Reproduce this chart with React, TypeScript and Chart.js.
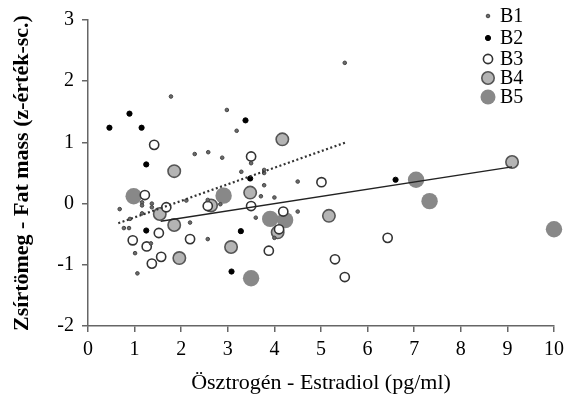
import React, { useEffect, useRef } from "react";
import { Chart, registerables } from "chart.js";

Chart.register(...registerables);

// ---- data (x = Estradiol pg/ml, y = Fat mass z-score) ----
const b1Points: [number, number][] = [
  [1.78, 1.75], [2.29, 0.81], [2.98, 1.53], [3.19, 1.19], [2.58, 0.84], [2.88, 0.75],
  [3.5, 0.66], [3.29, 0.52], [3.78, 0.5], [3.78, 0.55], [4.5, 0.36], [3.78, 0.3],
  [3.71, 0.12], [4.0, 0.1], [2.57, 0.06], [2.84, -0.01], [4.5, -0.13], [3.6, -0.23],
  [4.0, -0.56], [2.57, -0.58], [0.68, -0.09], [1.16, 0.02], [1.16, -0.03], [1.37, 0.0],
  [1.37, -0.06], [1.16, -0.16], [0.9, -0.25], [0.77, -0.4], [0.88, -0.4], [2.19, -0.31],
  [1.35, -0.65], [1.01, -0.81], [1.06, -1.14], [2.11, 0.05], [5.51, 2.3],
];
const b2Points: [number, number][] = [
  [0.89, 1.47], [0.46, 1.24], [1.15, 1.24], [1.25, 0.64], [3.38, 1.36], [3.48, 0.41],
  [3.28, -0.45], [3.08, -1.11], [1.25, -0.44], [6.6, 0.39],
];
const b3Points: [number, number][] = [
  [1.42, 0.96], [3.5, 0.77], [2.57, -0.04], [3.5, -0.04], [4.19, -0.13], [3.88, -0.77],
  [1.22, 0.14], [1.68, -0.06], [1.52, -0.48], [0.96, -0.6], [1.26, -0.7], [2.19, -0.58],
  [1.57, -0.87], [1.37, -0.98], [5.01, 0.35], [6.43, -0.56], [5.3, -0.91], [5.51, -1.2],
  [4.1, -0.42],
];
const b4Points: [number, number][] = [
  [1.85, 0.53], [4.17, 1.05], [3.48, 0.18], [2.64, -0.03], [1.54, -0.17], [1.85, -0.35],
  [4.07, -0.47], [3.07, -0.71], [1.96, -0.89], [5.17, -0.2], [9.1, 0.68],
];
const b5Points: [number, number][] = [
  [0.98, 0.12], [2.91, 0.13], [3.91, -0.25], [4.23, -0.27], [3.5, -1.22], [7.04, 0.39],
  [7.33, 0.04], [10.0, -0.42],
];
const dottedTrend: [number, number][] = [[0.65, -0.32], [5.53, 1.0]];
const solidTrend: [number, number][] = [[1.56, -0.29], [9.1, 0.6]];

const seriesNames = ["B1", "B2", "B3", "B4", "B5"];
const xTitle = "Ösztrogén - Estradiol (pg/ml)";
const yTitle = "Zsírtömeg - Fat mass (z-érték-sc.)";

const FONT = "'Liberation Serif', 'Times New Roman', serif";

const toXY = (pts: [number, number][]) => pts.map(([x, y]) => ({ x, y }));

const seriesStyles = [
  { r: 1.8, bg: "#6a6a6a", bc: "#444444", bw: 1 },
  { r: 2.6, bg: "#000000", bc: "#000000", bw: 1 },
  { r: 4.6, bg: "#ffffff", bc: "#333333", bw: 1.6 },
  { r: 6.2, bg: "#b4b4b4", bc: "#555555", bw: 1.6 },
  { r: 8.2, bg: "#888888", bc: "#888888", bw: 0 },
];

const legendPlugin = {
  id: "customLegend",
  afterDraw(chart: any) {
    const ctx = chart.ctx;
    ctx.save();
    const rows = [16, 38, 59, 78, 97];
    seriesNames.forEach((name, i) => {
      const s = seriesStyles[i];
      ctx.beginPath();
      ctx.arc(488, rows[i], Math.min(s.r, 7.5), 0, Math.PI * 2);
      ctx.fillStyle = s.bg;
      ctx.fill();
      if (s.bw > 0) {
        ctx.lineWidth = s.bw;
        ctx.strokeStyle = s.bc;
        ctx.stroke();
      }
      ctx.fillStyle = "#000";
      ctx.font = `20px ${FONT}`;
      ctx.textBaseline = "middle";
      ctx.textAlign = "left";
      ctx.fillText(name, 500, rows[i] + 1);
    });
    ctx.restore();
  },
};

export default function App() {
  const ref = useRef<HTMLCanvasElement | null>(null);
  useEffect(() => {
    if (!ref.current) return;
    const allSeries = [b1Points, b2Points, b3Points, b4Points, b5Points];
    const scatterSets = allSeries.map((pts, i) => ({
      type: "scatter" as const,
      label: seriesNames[i],
      data: toXY(pts),
      pointRadius: seriesStyles[i].r,
      pointBackgroundColor: seriesStyles[i].bg,
      pointBorderColor: seriesStyles[i].bc,
      pointBorderWidth: seriesStyles[i].bw,
      pointHoverRadius: seriesStyles[i].r,
      showLine: false,
      order: i + 1,
      clip: false as any,
    }));
    const chart = new Chart(ref.current, {
      type: "scatter",
      data: {
        datasets: [
          {
            type: "line" as const,
            label: "trend1",
            data: toXY(dottedTrend),
            borderColor: "#333333",
            borderWidth: 2.2,
            borderDash: [2, 2.5],
            pointRadius: 0,
            showLine: true,
            order: 0,
          } as any,
          {
            type: "line" as const,
            label: "trend2",
            data: toXY(solidTrend),
            borderColor: "#222222",
            borderWidth: 1.5,
            pointRadius: 0,
            showLine: true,
            order: 0,
          } as any,
          ...scatterSets,
        ],
      },
      options: {
        animation: false,
        responsive: true,
        maintainAspectRatio: false,
        layout: { padding: { left: 0, top: 16, right: 12, bottom: 0 } },
        plugins: {
          legend: { display: false },
          tooltip: { enabled: false },
        },
        scales: {
          x: {
            type: "linear",
            min: 0,
            max: 10,
            afterFit: (s: any) => { s.height = 75; },
            ticks: {
              stepSize: 1,
              color: "#000",
              padding: 6,
              font: { family: FONT, size: 20 },
            },
            grid: { display: true, drawOnChartArea: false, drawTicks: true, tickLength: 6, color: "#666", lineWidth: 1.5 },
            border: { display: true, color: "#666", width: 1.5 },
            title: {
              display: true,
              text: xTitle,
              color: "#000",
              font: { family: FONT, size: 22 },
              padding: { top: 0, bottom: 5 },
            },
          },
          y: {
            type: "linear",
            min: -2,
            max: 3,
            afterFit: (s: any) => { s.width = 88; },
            ticks: {
              stepSize: 1,
              color: "#000",
              padding: 8,
              font: { family: FONT, size: 20 },
            },
            grid: { display: true, drawOnChartArea: false, drawTicks: true, tickLength: 6, color: "#666", lineWidth: 1.5 },
            border: { display: true, color: "#666", width: 1.5 },
            title: {
              display: true,
              text: yTitle,
              color: "#000",
              font: { family: FONT, size: 22, weight: "bold" },
              padding: { top: 9, bottom: 0 },
            },
          },
        },
      },
      plugins: [legendPlugin],
    });
    return () => chart.destroy();
  }, []);
  return (
    <div style={{ position: "fixed", left: 0, top: 0, width: 570, height: 401, background: "#fff" }}>
      <canvas ref={ref} />
    </div>
  );
}
